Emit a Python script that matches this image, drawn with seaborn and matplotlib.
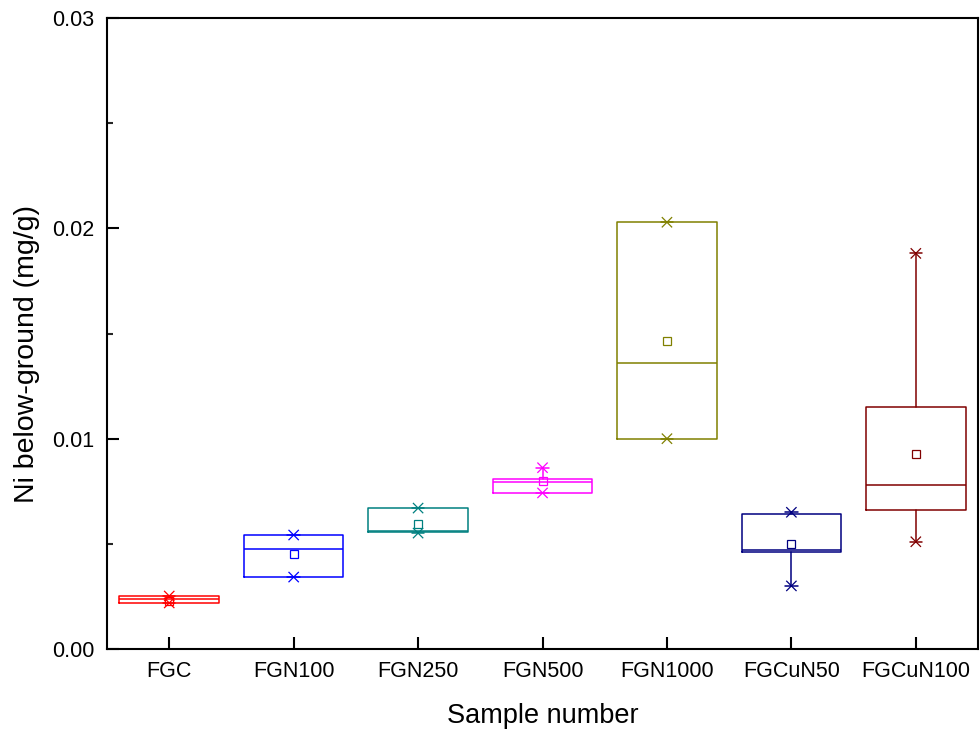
import numpy as np
import matplotlib
matplotlib.use("Agg")
import matplotlib.pyplot as plt
from matplotlib.ticker import FixedLocator, FormatStrFormatter
import seaborn as sns

# Sample groups and their summary statistics (mg/g)
samples = ["FGC", "FGN100", "FGN250", "FGN500", "FGN1000", "FGCuN50", "FGCuN100"]
q1 = [0.00219, 0.00342, 0.00556, 0.00742, 0.01000, 0.00463, 0.00661]
median = [0.00236, 0.00474, 0.00561, 0.00793, 0.01360, 0.00471, 0.00780]
q3 = [0.00252, 0.00542, 0.00670, 0.00810, 0.02029, 0.00640, 0.01151]
mean = [0.00228, 0.00452, 0.00594, 0.00800, 0.01463, 0.00498, 0.00929]
minimum = [0.00219, 0.00342, 0.00551, 0.00742, 0.01000, 0.00300, 0.00510]
maximum = [0.00252, 0.00542, 0.00670, 0.00862, 0.02029, 0.00650, 0.01881]
colors = ["#FF0000", "#0000FF", "#008080", "#FF00FF", "#808000", "#000080", "#800000"]
y_major = [0.00, 0.01, 0.02, 0.03]
y_minor = [0.005, 0.015, 0.025]

sns.set_style("ticks")
plt.rcParams["font.family"] = ["Liberation Sans", "DejaVu Sans"]
plt.rcParams["text.color"] = "black"
plt.rcParams["axes.labelcolor"] = "black"

fig = plt.figure(figsize=(9.8, 7.33), dpi=100)
ax = fig.add_axes([0.1092, 0.1146, 0.8888, 0.8608])

pos = np.arange(len(samples))

for i, c in enumerate(colors):
    stats = [dict(med=median[i], q1=q1[i], q3=q3[i],
                  whislo=minimum[i], whishi=maximum[i], fliers=[])]
    ax.bxp(stats, positions=[pos[i]], widths=0.8, capwidths=0.1,
           showfliers=False, showcaps=True,
           boxprops=dict(color=c, lw=1.1),
           medianprops=dict(color=c, lw=1.1),
           whiskerprops=dict(color=c, lw=1.1),
           capprops=dict(color=c, lw=1.1))

# min / max crosses
ext_x = np.concatenate([pos, pos])
ext_y = np.concatenate([minimum, maximum])
ext_c = colors + colors
sns.scatterplot(x=ext_x, y=ext_y, hue=np.arange(len(ext_x)), palette=ext_c,
                marker="x", s=55, linewidth=0.9, legend=False, ax=ax)

# means as open squares
for i, c in enumerate(colors):
    ax.plot(pos[i], mean[i], marker="s", ms=6, mfc="none", mec=c, mew=0.9, ls="none")

ax.set_xlim(-0.5, 6.5)
ax.set_ylim(0, 0.03)
ax.set_xticks(pos)
ax.set_xticklabels(samples)
ax.yaxis.set_major_locator(FixedLocator(y_major))
ax.yaxis.set_minor_locator(FixedLocator(y_minor))
ax.yaxis.set_major_formatter(FormatStrFormatter("%.2f"))

ax.tick_params(axis="both", which="major", direction="in", length=8.5, width=1.5,
               labelsize=15.5, color="black", labelcolor="black")
ax.tick_params(axis="y", which="major", pad=9)
ax.tick_params(axis="x", which="major", pad=9)
ax.tick_params(axis="y", which="minor", direction="in", length=4.3, width=1.5)

for sp in ax.spines.values():
    sp.set_linewidth(1.5)
    sp.set_color("black")

ax.set_xlabel("Sample number", fontsize=19.5, labelpad=15, color="black")
ax.set_ylabel("Ni below-ground (mg/g)", fontsize=20.5, color="black")
ax.yaxis.set_label_coords(-0.077, 0.468)

fig.savefig("out.png", dpi=100)
